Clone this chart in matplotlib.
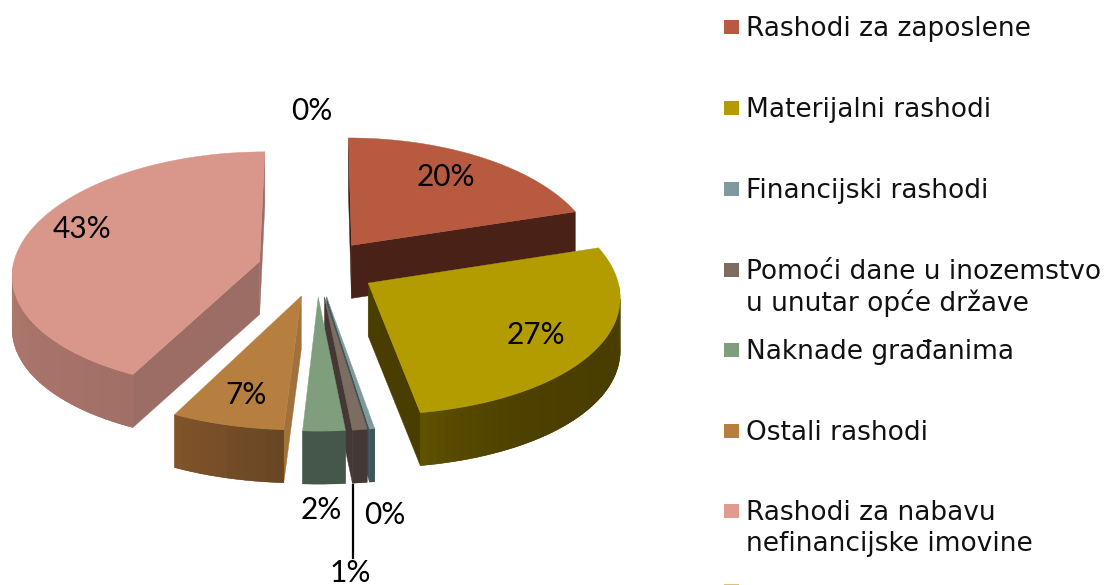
import numpy as np
import matplotlib
matplotlib.use("Agg")
import matplotlib.pyplot as plt
from matplotlib.patches import Polygon, Rectangle
from matplotlib.colors import to_rgb

# ---------- data ----------
categories = ["Rashodi za zaposlene", "Materijalni rashodi", "Financijski rashodi",
              "Pomoći dane u inozemstvo\nu unutar opće države", "Naknade građanima",
              "Ostali rashodi", "Rashodi za nabavu\nnefinancijske imovine", ""]
values = [20.4, 27.4, 0.3, 0.85, 2.45, 6.6, 43.0, 0.0]
top_colors = ["#B85A3F", "#B39C00", "#7F9A9E", "#7D6C60", "#7F9F7C", "#B67F3F", "#D9978B", "#D8C27C"]
rim_start = ["#4A2117", "#4A3D00", "#3E5559", "#433835", "#45574A", "#694724", "#A26F66", "#6b5f3a"]
rim_end = ["#4A2117", "#5E5100", "#3E5559", "#433835", "#45574A", "#80532A", "#BE8479", "#6b5f3a"]
rim_gamma = [1, 6, 1, 1, 1, 1, 1, 1]
cut_start = ["#3A1A12", "#4A3D00", "#3E5559", "#3F3633", "#45574A", "#A0713A", "#9C6D64", "#6b5f3a"]
cut_end = ["#4A2117", "#4A3D00", "#3E5559", "#433835", "#45574A", "#A0713A", "#9C6D64", "#6b5f3a"]
legend_colors = ["#B85A3F", "#B39C00", "#7F9A9E", "#7D6C60", "#7F9F7C", "#B67F3F", "#E09A90", "#D8C27C"]

# ---------- projection of the exploded pie ----------
CX, CY = 317.0, 268.0
AX, BY = 247.0, 119.0
PX, PY = 0.10, 0.077
EXPLODE = 0.24
DEPTH = 53.0


def project(X, Y):
    X, Y = np.asarray(X, float), np.asarray(Y, float)
    return CX + AX * X / (1 - PX * Y), CY + BY * Y / (1 - PY * Y)


fig = plt.figure(figsize=(11.08, 5.85), dpi=100)
ax = fig.add_axes([0, 0, 1, 1])
ax.set_xlim(0, 1108)
ax.set_ylim(585, 0)
ax.axis("off")

vals = np.array(values)
edges = np.concatenate([[0], np.cumsum(vals)]) / vals.sum() * 2 * np.pi
mids = (edges[:-1] + edges[1:]) / 2
order = np.argsort(-np.cos(mids))  # back to front


def lerp(c1, c2, t):
    a, b = np.array(to_rgb(c1)), np.array(to_rgb(c2))
    return tuple(a + (b - a) * t)


def face(p, q, color, z):
    # boundary is walked clockwise on screen: a face shows when it heads left
    if q[0] - p[0] >= 0:
        return
    ax.add_patch(Polygon([p, q, (q[0], q[1] + DEPTH), (p[0], p[1] + DEPTH)],
                         closed=True, facecolor=color, edgecolor=color, lw=0.3, zorder=z))


for n, i in enumerate(order):
    if vals[i] <= 0:
        continue
    t0, t1 = edges[i], edges[i + 1]
    th = np.linspace(t0, t1, max(3, int((t1 - t0) / 0.03)))
    ox, oy = EXPLODE * np.sin(mids[i]), -EXPLODE * np.cos(mids[i])
    ax_x, ax_y = project(ox, oy)
    rx, ry = project(ox + np.sin(th), oy - np.cos(th))
    z = 2 + n * 3
    # cut faces
    face((rx[-1], ry[-1]), (ax_x, ax_y), cut_end[i], z)
    face((ax_x, ax_y), (rx[0], ry[0]), cut_start[i], z)
    # rim: one solid underlay so that the gradient strips leave no seams
    front = np.cos(th) < 0
    if front.sum() > 1:
        fx, fy = rx[front], ry[front]
        ax.add_patch(Polygon(np.column_stack([np.r_[fx, fx[::-1]], np.r_[fy, fy[::-1] + DEPTH]]),
                             closed=True, facecolor=lerp(rim_start[i], rim_end[i], 0.5 ** rim_gamma[i]),
                             edgecolor="none", zorder=z))
    for k in range(len(th) - 1):
        if np.cos(th[k]) < 0:
            t = (k / max(1, len(th) - 2)) ** rim_gamma[i]
            face((rx[k], ry[k]), (rx[k + 1], ry[k + 1]), lerp(rim_start[i], rim_end[i], t), z)
    # top
    ax.add_patch(Polygon(np.column_stack([np.r_[ax_x, rx], np.r_[ax_y, ry]]), closed=True,
                         facecolor=top_colors[i], edgecolor=top_colors[i], lw=0.3, zorder=z + 1))

# ---------- data labels ----------
pct = np.rint(vals / vals.sum() * 100).astype(int)
label_xy = [(446, 177), (536, 335), (385, 515), (350, 573), (321, 510), (246, 395), (82, 229), (312, 111)]
for p, (x, y) in zip(pct, label_xy):
    ax.text(x, y, f"{p}%", ha="center", va="center", fontsize=21.5, family="Lato", color="black", zorder=60)
ax.plot([353, 353], [485, 558], color="black", lw=1.6, zorder=50)

# ---------- legend ----------
legend_y = [27, 108, 189, 270, 350, 431, 511, 591]
for name, col, y in zip(categories, legend_colors, legend_y):
    ax.add_patch(Rectangle((724, y - 7), 15, 14, facecolor=col, edgecolor="none"))
    if name:
        for j, line in enumerate(name.split("\n")):
            ax.text(746, y + 2 + j * 31, line, ha="left", va="center", fontsize=19,
                    family="DejaVu Sans", color="#111111")

fig.savefig("out.png", dpi=100, facecolor="white")
